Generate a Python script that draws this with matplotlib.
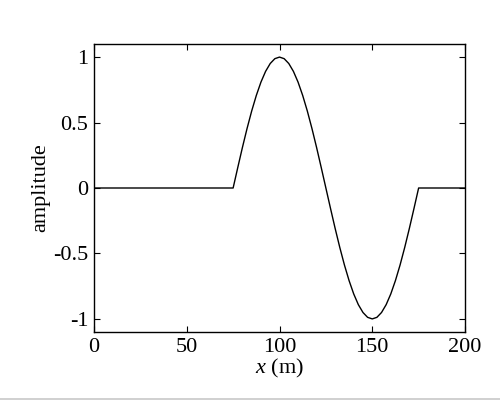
import matplotlib
matplotlib.use('Agg')
import matplotlib.pyplot as plt
from matplotlib.lines import Line2D

# values (one point every 2.5 m across the pulse)
x_m = [0, 75, 77.5, 80, 82.5, 85, 87.5, 90, 92.5, 95, 97.5, 100,
       102.5, 105, 107.5, 110, 112.5, 115, 117.5, 120, 122.5, 125,
       127.5, 130, 132.5, 135, 137.5, 140, 142.5, 145, 147.5, 150,
       152.5, 155, 157.5, 160, 162.5, 165, 167.5, 170, 172.5, 175, 200]
amplitude = [0, 0, 0.156, 0.309, 0.454, 0.588, 0.707, 0.809, 0.891, 0.951, 0.988, 1.0,
             0.988, 0.951, 0.891, 0.809, 0.707, 0.588, 0.454, 0.309, 0.156, 0.0,
             -0.156, -0.309, -0.454, -0.588, -0.707, -0.809, -0.891, -0.951, -0.988, -1.0,
             -0.988, -0.951, -0.891, -0.809, -0.707, -0.588, -0.454, -0.309, -0.156, 0, 0]
x_ticks = [0, 50, 100, 150, 200]
y_ticks = [-1, -0.5, 0, 0.5, 1]
y_tick_labels = ['-1', '-0.5', '0', '0.5', '1']

plt.rcParams['font.family'] = ['Liberation Serif', 'DejaVu Serif']
plt.rcParams['mathtext.fontset'] = 'custom'
plt.rcParams['mathtext.it'] = 'Liberation Serif:italic'
plt.rcParams['mathtext.rm'] = 'Liberation Serif'

fig = plt.figure(figsize=(5, 4), dpi=100)
ax = fig.add_axes([0.188, 0.17, 0.742, 0.72])

ax.plot(x_m, amplitude, color='black', linewidth=1.0)

ax.set_xlim(0, 200)
ax.set_ylim(-1.1, 1.1)
ax.set_xticks(x_ticks)
ax.set_yticks(y_ticks)
ax.set_yticklabels(y_tick_labels)
ax.tick_params(direction='in', top=True, right=True, length=4, width=0.8,
               labelsize=16, pad=4)
for spine in ax.spines.values():
    spine.set_linewidth(1.0)

ax.set_xlabel('$x$ (m)', fontsize=16, labelpad=0)
ax.set_ylabel('amplitude', fontsize=16, labelpad=2)

# thin grey border along the bottom edge, as in the screenshot
fig.add_artist(Line2D([0, 1], [0.003, 0.003], transform=fig.transFigure,
                      color='#c8c8c8', linewidth=1.2))

fig.savefig('out.png', dpi=100)
